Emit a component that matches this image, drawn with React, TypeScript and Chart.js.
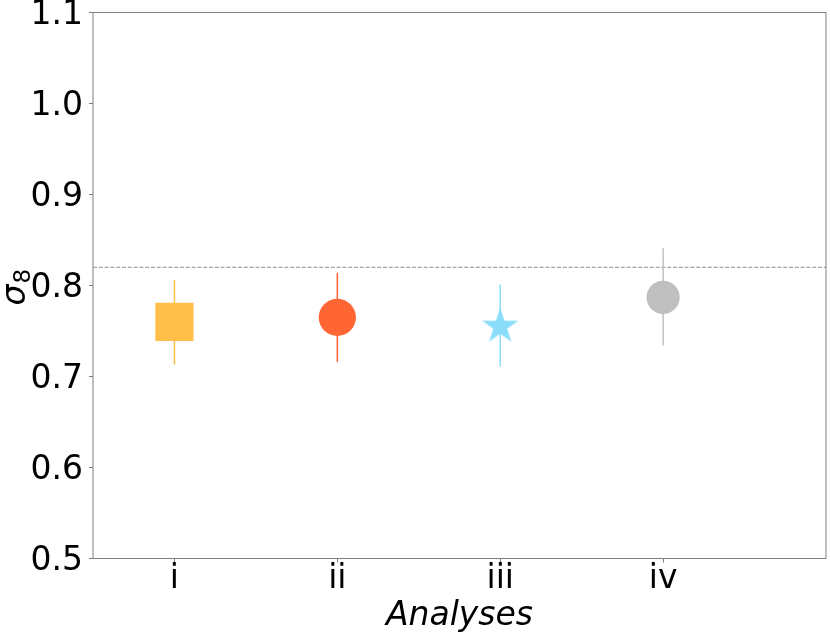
import React, { useEffect, useRef } from 'react';
import { Chart, registerables } from 'chart.js';

Chart.register(...registerables);

const categories = ['i', 'ii', 'iii', 'iv'];
const sigma8 = [0.760, 0.765, 0.755, 0.787];
const errLow = [0.713, 0.716, 0.711, 0.734];
const errHigh = [0.806, 0.814, 0.801, 0.841];
const referenceValue = 0.82;
const yMin = 0.5;
const yMax = 1.1;
const xLabel = 'Analyses';
const markerColors = ['#FFBF4A', '#FF6633', '#8ADDFA', '#BFBFBF'];

const FONT = "'DejaVu Sans', 'Liberation Sans', sans-serif";
const AXIS_GREY = '#808080';

function makeStar(R: number, color: string): HTMLCanvasElement {
  const s = Math.ceil(2 * R + 2);
  const c = document.createElement('canvas');
  c.width = s;
  c.height = s;
  const g = c.getContext('2d')!;
  g.fillStyle = color;
  g.beginPath();
  const r = R * 0.381966;
  for (let k = 0; k < 10; k++) {
    const rad = k % 2 === 0 ? R : r;
    const a = -Math.PI / 2 + (k * Math.PI) / 5;
    const px = s / 2 + rad * Math.cos(a);
    const py = s / 2 + rad * Math.sin(a);
    if (k === 0) g.moveTo(px, py);
    else g.lineTo(px, py);
  }
  g.closePath();
  g.fill();
  return c;
}

const decorPlugin = {
  id: 'decor',
  beforeDatasetsDraw(chart: any) {
    const { ctx, chartArea, scales } = chart;
    const xs = scales.x;
    const ys = scales.y;
    ctx.save();
    // reference dashed line
    const yr = ys.getPixelForValue(referenceValue);
    ctx.strokeStyle = AXIS_GREY;
    ctx.lineWidth = 0.9;
    ctx.setLineDash([4, 1.8]);
    ctx.beginPath();
    ctx.moveTo(chartArea.left, yr);
    ctx.lineTo(chartArea.right, yr);
    ctx.stroke();
    ctx.setLineDash([]);
    // error bars
    for (let i = 0; i < categories.length; i++) {
      const x = xs.getPixelForValue(i);
      ctx.strokeStyle = markerColors[i];
      ctx.lineWidth = 1.5;
      ctx.beginPath();
      ctx.moveTo(x, ys.getPixelForValue(errLow[i]));
      ctx.lineTo(x, ys.getPixelForValue(errHigh[i]));
      ctx.stroke();
    }
    ctx.restore();
  },
  afterDraw(chart: any) {
    const { ctx, chartArea } = chart;
    ctx.save();
    ctx.strokeStyle = AXIS_GREY;
    ctx.lineWidth = 1;
    ctx.strokeRect(chartArea.left, chartArea.top, chartArea.right - chartArea.left, chartArea.bottom - chartArea.top);
    // y-axis title: sigma with subscript 8
    const cy = (chartArea.top + chartArea.bottom) / 2;
    ctx.translate(25, cy + 20);
    ctx.rotate(-Math.PI / 2);
    ctx.fillStyle = '#000';
    ctx.textBaseline = 'alphabetic';
    ctx.textAlign = 'left';
    ctx.font = `italic 33px ${FONT}`;
    ctx.fillText('σ', 0, 0);
    const w = ctx.measureText('σ').width;
    ctx.font = `23px ${FONT}`;
    ctx.fillText('8', w + 1, 5);
    ctx.restore();
  },
};

export default function App() {
  const ref = useRef<HTMLCanvasElement>(null);
  useEffect(() => {
    if (!ref.current) return;
    const star = makeStar(19, markerColors[2]);
    const chart = new Chart(ref.current, {
      type: 'scatter',
      data: {
        datasets: [
          {
            data: sigma8.map((v, i) => ({ x: i, y: v })),
            pointStyle: ['rect', 'circle', star, 'circle'] as any,
            pointRadius: [27, 18.6, 19, 16.6],
            pointHoverRadius: [27, 18.6, 19, 16.6],
            backgroundColor: markerColors,
            borderWidth: 0,
          },
        ],
      },
      plugins: [decorPlugin],
      options: {
        animation: false,
        responsive: false,
        events: [],
        layout: { autoPadding: false, padding: { top: 12.5, right: 4, left: 0, bottom: 0 } },
        plugins: { legend: { display: false }, tooltip: { enabled: false } },
        scales: {
          x: {
            type: 'linear',
            min: -0.5,
            max: 4,
            afterBuildTicks: (scale: any) => {
              scale.ticks = categories.map((_, i) => ({ value: i }));
            },
            afterFit: (scale: any) => {
              scale.height = 74.5;
              scale.paddingLeft = 0;
              scale.paddingRight = 0;
            },
            border: { display: false },
            grid: { drawOnChartArea: false, drawTicks: true, tickLength: 4, tickColor: AXIS_GREY, lineWidth: 1 },
            ticks: {
              padding: -3,
              color: '#000',
              font: { family: FONT, size: 33 },
              maxRotation: 0,
              autoSkip: false,
              callback: (v: any) => categories[Math.round(Number(v))] ?? '',
            },
            title: {
              display: true,
              text: xLabel,
              color: '#000',
              font: { family: FONT, size: 33, style: 'italic' },
              padding: { top: -3, bottom: -3 },
            },
          },
          y: {
            type: 'linear',
            min: yMin,
            max: yMax,
            afterFit: (scale: any) => {
              scale.width = 93;
              scale.paddingTop = 0;
              scale.paddingBottom = 0;
            },
            border: { display: false },
            grid: { drawOnChartArea: false, drawTicks: true, tickLength: 4, tickColor: AXIS_GREY, lineWidth: 1 },
            ticks: {
              stepSize: 0.1,
              padding: 6,
              labelOffset: 3,
              color: '#000',
              font: { family: FONT, size: 33 },
              callback: (v: any) => Number(v).toFixed(1),
            },
          },
        },
      },
    });
    return () => chart.destroy();
  }, []);
  return (
    <div style={{ position: 'absolute', left: 0, top: 0, width: 830, height: 633 }}>
      <canvas ref={ref} width={830} height={633} />
    </div>
  );
}
